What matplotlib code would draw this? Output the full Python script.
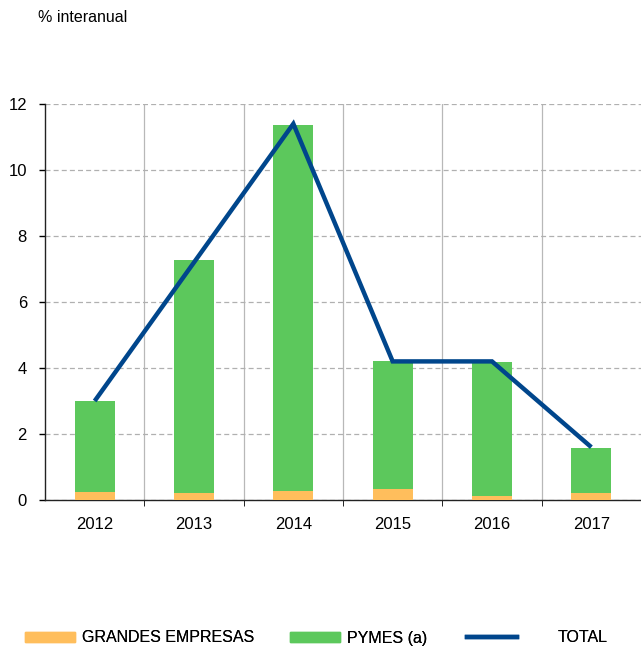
import matplotlib
matplotlib.use("Agg")
import matplotlib.pyplot as plt
from matplotlib.patches import Patch
from matplotlib.lines import Line2D
import numpy as np

plt.rcParams['font.family'] = ['Liberation Sans', 'DejaVu Sans']

years = ['2012', '2013', '2014', '2015', '2016', '2017']
grandes = [0.25, 0.22, 0.28, 0.34, 0.13, 0.22]
pymes = [2.75, 7.05, 11.08, 3.87, 4.05, 1.37]
total = [3.0, 7.2, 11.4, 4.2, 4.2, 1.6]

c_orange = '#ffbe5c'
c_green = '#5cc85c'
c_blue = '#00468c'

fig = plt.figure(figsize=(6.41, 6.47), dpi=100)
ax = fig.add_axes([45/641, 1-500/647, 1-45/641, (500-104)/647])

x = np.arange(len(years))
w = 0.4
ax.bar(x, grandes, width=w, color=c_orange, zorder=3)
ax.bar(x, pymes, width=w, bottom=grandes, color=c_green, zorder=3)
ax.plot(x, total, color=c_blue, lw=3.2, zorder=4, solid_capstyle='butt',
        solid_joinstyle='miter')

ax.set_xlim(-0.5, len(years) - 0.5)
ax.set_ylim(0, 12)
ax.set_yticks(np.arange(0, 13, 2))
ax.set_yticklabels([str(v) for v in range(0, 13, 2)], fontsize=12)
ax.set_xticks(x)
ax.set_xticklabels(years, fontsize=12)
ax.tick_params(axis='x', length=0, pad=12)
ax.tick_params(axis='y', length=4, width=1, direction='out', pad=9)
ax.set_xticks(np.arange(0.5, len(years) - 1, 1), minor=True)
ax.tick_params(axis='x', which='minor', length=4, direction='out')

ax.grid(axis='y', color='#b0b0b0', linestyle=(0, (4, 2.5)), lw=0.9, zorder=1)
ax.grid(axis='x', which='minor', color='#b8b8b8', linestyle='-', lw=0.9, zorder=1)
for s in ['top', 'right']:
    ax.spines[s].set_visible(False)
for s in ['left', 'bottom']:
    ax.spines[s].set_color('#222222')
    ax.spines[s].set_linewidth(1.0)

fig.text(38/641, 1-18/647, '% interanual', fontsize=11.5, va='center', ha='left')

entries = [
    (Patch(color=c_orange), 'GRANDES EMPRESAS', 25, 0.45),
    (Patch(color=c_green), 'PYMES (a)', 290, 0.45),
    (Line2D([0], [0], color=c_blue, lw=3.2), 'TOTAL', 467, 2.6),
]
for h, lab, px, tpad in entries:
    lg = fig.legend([h], [lab], loc='center left', bbox_to_anchor=(px/641, 1-638/647),
                    frameon=False, fontsize=11.5, handlelength=3.1, handleheight=0.6,
                    handletextpad=tpad, borderpad=0, borderaxespad=0)
    fig.add_artist(lg)

fig.savefig('out.png', dpi=100)
